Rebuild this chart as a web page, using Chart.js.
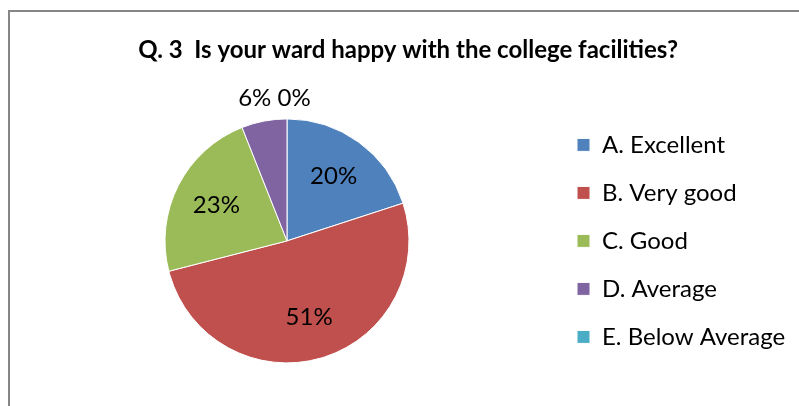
<!DOCTYPE html>
<html>
<head>
<meta charset="utf-8">
<script src="https://cdn.jsdelivr.net/npm/chart.js@4"></script>
<style>
  html, body { margin: 0; padding: 0; background: #fff; overflow: hidden; }
  #frame { position: absolute; left: 8px; top: 10px; width: 806px; height: 420px; border: 2px solid #868686; }
  canvas { display: block; }
</style>
</head>
<body>
<div id="frame"><canvas id="pieChart" width="806" height="420"></canvas></div>
<script>
const categories = ['A. Excellent', 'B. Very good', 'C. Good', 'D. Average', 'E. Below Average'];
const percentages = [20, 51, 23, 6, 0];
const sliceColors = ['#4F81BD', '#C0504D', '#9BBB59', '#8064A2', '#4BACC6'];
const chartTitle = 'Q. 3  Is your ward happy with the college facilities?';

// percent labels: big slices inside, tiny ones in a row above the pie
const pieLabels = {
    id: 'pieLabels',
    afterDatasetsDraw(chart) {
        const ctx = chart.ctx;
        const meta = chart.getDatasetMeta(0);
        const data = chart.data.datasets[0].data;
        const total = data.reduce((a, b) => a + b, 0);
        const outside = [];
        ctx.save();
        ctx.font = '24px Lato';
        ctx.fillStyle = '#000';
        ctx.textAlign = 'center';
        ctx.textBaseline = 'middle';
        meta.data.forEach((arc, i) => {
            const { x, y, startAngle, endAngle, outerRadius } = arc.getProps(['x', 'y', 'startAngle', 'endAngle', 'outerRadius'], true);
            const mid = (startAngle + endAngle) / 2;
            const text = Math.round(data[i] / total * 100) + '%';
            if (data[i] / total < 0.1) {
                outside.push({ text, dx: Math.cos(mid) * outerRadius * 1.1, top: y - outerRadius });
            } else {
                ctx.fillText(text, x + Math.cos(mid) * outerRadius * 0.65, y + Math.sin(mid) * outerRadius * 0.65);
            }
        });
        if (outside.length) {
            const dx = outside.reduce((s, o) => s + o.dx, 0) / outside.length;
            ctx.fillText(outside.map(o => o.text).join(' '), meta.data[0].x + dx, outside[0].top - 21);
        }
        ctx.restore();
    }
};

// keep the legend where the reference has it
const legendPad = 24, legendBox = 13, legendFontSize = 24, legendLeft = 543;
const measure = document.createElement('canvas').getContext('2d');
measure.font = legendFontSize + 'px Lato';
const longest = Math.max(...categories.map(c => measure.measureText(c).width));
const legendWidth = legendPad + legendBox + legendFontSize / 2 + longest + 10;
const rightPad = Math.max(0, 806 - legendLeft - legendWidth);

Chart.defaults.font.family = 'Lato';
Chart.defaults.color = '#000';

new Chart(document.getElementById('pieChart'), {
    type: 'pie',
    data: {
        labels: categories,
        datasets: [{
            data: percentages,
            backgroundColor: sliceColors,
            borderColor: '#fff',
            borderWidth: 1,
            radius: 122
        }]
    },
    options: {
        responsive: false,
        animation: false,
        layout: { padding: { left: 11, right: rightPad, top: 0, bottom: 22 } },
        plugins: {
            title: {
                display: true,
                text: chartTitle,
                font: { size: 24, weight: 'bold' },
                color: '#000',
                padding: { top: 24, bottom: 7 }
            },
            legend: {
                position: 'right',
                fullSize: false,
                labels: {
                    boxWidth: legendBox,
                    boxHeight: legendBox,
                    padding: legendPad,
                    font: { size: legendFontSize },
                    color: '#000'
                }
            },
            tooltip: { enabled: false }
        }
    },
    plugins: [pieLabels]
});
</script>
</body>
</html>
